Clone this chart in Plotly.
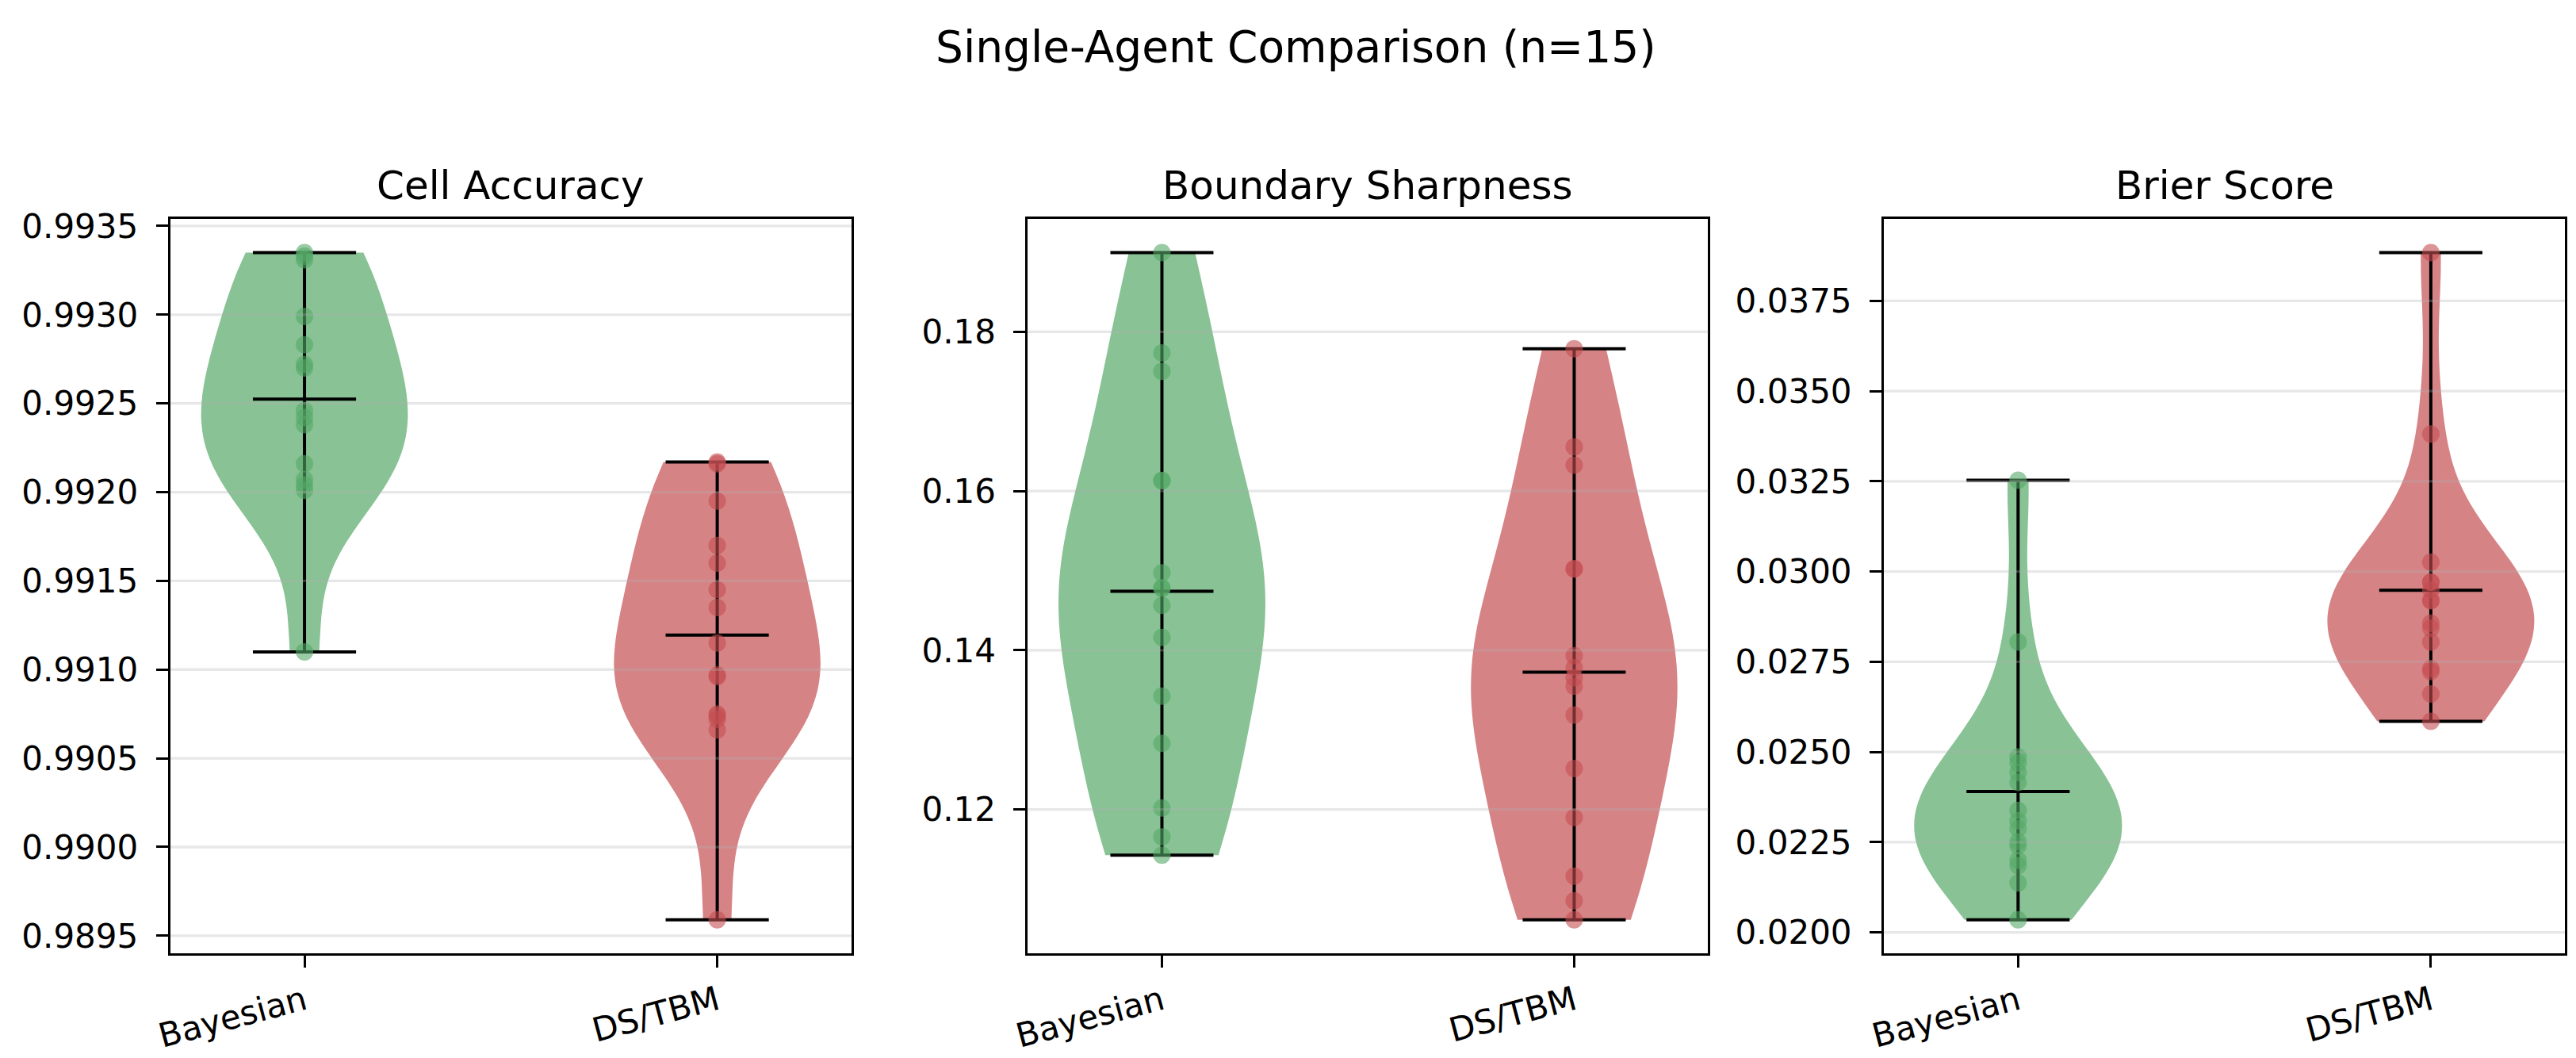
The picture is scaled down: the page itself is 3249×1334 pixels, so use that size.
import numpy as np
import plotly.graph_objects as go

# --- data (n=15 runs per method) ---
methods = ["Bayesian", "DS/TBM"]
positions = [1, 2]

bayes_acc = [0.99335, 0.99333, 0.99331, 0.99299, 0.99283, 0.99272, 0.99270, 0.99246,
             0.99242, 0.99238, 0.99216, 0.99207, 0.99204, 0.99201, 0.99110]
dstbm_acc = [0.99217, 0.99216, 0.99195, 0.99170, 0.99160, 0.99145, 0.99135, 0.99115,
             0.99097, 0.99096, 0.99075, 0.99074, 0.99072, 0.99066, 0.98959]

bayes_sharp = [0.18996, 0.17736, 0.17505, 0.16134, 0.16130, 0.14973, 0.14782, 0.14780,
               0.14564, 0.14162, 0.13424, 0.12830, 0.12019, 0.11656, 0.11425]
dstbm_sharp = [0.17789, 0.16556, 0.16325, 0.15026, 0.15020, 0.13931, 0.13780, 0.13655,
               0.13549, 0.13186, 0.12514, 0.11900, 0.11162, 0.10852, 0.10614]

bayes_brier = [0.03253, 0.02805, 0.02486, 0.02469, 0.02443, 0.02416, 0.02338, 0.02309,
               0.02287, 0.02251, 0.02240, 0.02200, 0.02185, 0.02137, 0.02035]
dstbm_brier = [0.03884, 0.03381, 0.03026, 0.02971, 0.02970, 0.02949, 0.02920, 0.02919,
               0.02857, 0.02843, 0.02805, 0.02731, 0.02723, 0.02661, 0.02585]

panel_titles = ["Cell Accuracy", "Boundary Sharpness", "Brier Score"]
acc_ticks = [0.9895, 0.9900, 0.9905, 0.9910, 0.9915, 0.9920, 0.9925, 0.9930, 0.9935]
sharp_ticks = [0.12, 0.14, 0.16, 0.18]
brier_ticks = [0.0200, 0.0225, 0.0250, 0.0275, 0.0300, 0.0325, 0.0350, 0.0375]

panels = [
    (panel_titles[0], [bayes_acc, dstbm_acc], acc_ticks, ".4f"),
    (panel_titles[1], [bayes_sharp, dstbm_sharp], sharp_ticks, ".2f"),
    (panel_titles[2], [bayes_brier, dstbm_brier], brier_ticks, ".4f"),
]

colors = [(85, 168, 104), (196, 78, 82)]   # green / red
W, H = 3249, 1334
FONT = "DejaVu Sans"

# panel boxes in pixels (left, right), shared top/bottom
boxes_x = [(197, 1061), (1285, 2148), (2371, 3235)]
box_top, box_bot = 264, 1202

def rgba(c, a):
    return f"rgba({c[0]},{c[1]},{c[2]},{a})"

fig = go.Figure()
layout = dict(
    width=W, height=H,
    margin=dict(l=0, r=0, t=0, b=0),
    paper_bgcolor="white", plot_bgcolor="white",
    showlegend=False,
    font=dict(family=FONT, color="black", size=42),
)
annotations = []
shapes = []

for i, (title, groups, ticks, fmt) in enumerate(panels):
    k = "" if i == 0 else str(i + 1)
    xa, ya = "x" + k, "y" + k

    for pos, vals, col in zip(positions, groups, colors):
        v = np.array(vals)
        bw = np.std(v, ddof=1) * len(v) ** (-0.2)   # scott, like scipy gaussian_kde
        fig.add_trace(go.Violin(
            y=v, x0=pos, xaxis=xa, yaxis=ya,
            width=0.5, scalemode="width", spanmode="hard", bandwidth=bw,
            points=False, fillcolor=rgba(col, 0.7),
            line=dict(width=0, color=rgba(col, 0)),
            hoverinfo="skip",
        ))

    # extrema / mean bars and the vertical span line
    for pos, vals in zip(positions, groups):
        v = np.array(vals)
        bx, by = [], []
        for yv in (v.min(), v.max(), v.mean()):
            bx += [pos - 0.125, pos + 0.125, None]
            by += [yv, yv, None]
        bx += [pos, pos, None]
        by += [v.min(), v.max(), None]
        fig.add_trace(go.Scatter(x=bx, y=by, mode="lines", xaxis=xa, yaxis=ya,
                                 line=dict(color="black", width=4), hoverinfo="skip"))

    for pos, vals, col in zip(positions, groups, colors):
        fig.add_trace(go.Scatter(
            x=[pos] * len(vals), y=vals, mode="markers", xaxis=xa, yaxis=ya,
            marker=dict(size=22, color=rgba(col, 0.6), line=dict(width=0)),
        ))

    lo = min(min(g) for g in groups)
    hi = max(max(g) for g in groups)
    pad = 0.05 * (hi - lo)

    x0, x1 = boxes_x[i]
    axis_common = dict(showline=True, mirror=True, linecolor="black", linewidth=3.3,
                       ticks="outside", ticklen=15, tickwidth=3.3, tickcolor="black",
                       tickfont=dict(family=FONT, size=42, color="black"), zeroline=False)
    layout["xaxis" + k] = dict(
        domain=[x0 / W, x1 / W], anchor=ya, type="linear",
        range=[0.675, 2.325], tickvals=positions, ticktext=methods,
        tickangle=-15, showgrid=False, ticklabelstandoff=2, **axis_common)
    layout["yaxis" + k] = dict(
        domain=[1 - box_bot / H, 1 - box_top / H], anchor=xa,
        range=[lo - pad, hi + pad], tickvals=ticks, tickformat=fmt,
        showgrid=False, ticklabelstandoff=14, **axis_common)

    # light grid drawn over the violin bodies, as in the source figure
    for t in ticks:
        shapes.append(dict(type="line", xref=xa + " domain", yref=ya,
                           x0=0, x1=1, y0=t, y1=t, layer="above",
                           line=dict(color="rgba(176,176,176,0.3)", width=3.3)))

    annotations.append(dict(
        text=title, x=(x0 + x1) / 2 / W, y=1 - 221 / H, xref="paper", yref="paper",
        xanchor="center", yanchor="middle", showarrow=False,
        font=dict(family=FONT, size=50, color="black")))

annotations.append(dict(
    text="Single-Agent Comparison (n=15)", x=0.5, y=1 - 44 / H,
    xref="paper", yref="paper", xanchor="center", yanchor="middle",
    showarrow=False, font=dict(family=FONT, size=55, color="black")))

layout["annotations"] = annotations
layout["shapes"] = shapes
fig.update_layout(**layout)

# drop the browser's default body margin so the figure sits at the page origin
fig.write_html("out.html", config={"displayModeBar": False},
               post_script="document.body.style.margin='0';")
